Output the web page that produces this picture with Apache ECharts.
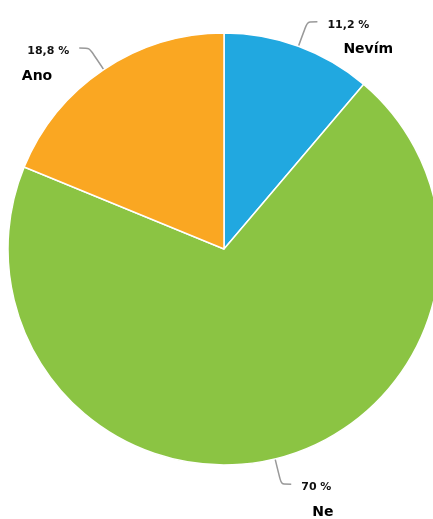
<!DOCTYPE html>
<html>
<head>
<meta charset="utf-8">
<style>
  html, body { margin: 0; padding: 0; background: #fff; }
  #chart { width: 433px; height: 519px; }
</style>
<script src="https://cdn.jsdelivr.net/npm/echarts@6/dist/echarts.min.js"></script>
</head>
<body>
<div id="chart"></div>
<script>
// Answer shares in percent, drawn clockwise from 12 o'clock
const categories = ['Nevím', 'Ne', 'Ano'];
const shares = [11.2, 70, 18.8];
const valueLabels = ['11,2 %', '70 %', '18,8 %'];
const sliceColors = ['#21a8e0', '#8bc443', '#faa722'];

// name-line indent per slice (left for right-hand labels, right for left-hand ones)
const namePadding = [[0, 0, 0, 16], [0, 0, 0, 11], [0, 17, 0, 0]];

const chart = echarts.init(document.getElementById('chart'), null, { renderer: 'canvas' });

const rich = {
  e: { height: 36, lineHeight: 36 },
  v: { fontFamily: 'DejaVu Sans', fontSize: 11, fontWeight: 'bold', color: '#111', lineHeight: 20 }
};
categories.forEach((c, i) => {
  rich['n' + i] = {
    fontFamily: 'DejaVu Sans', fontSize: 14, fontWeight: 'bold', color: '#000',
    lineHeight: 30, padding: namePadding[i]
  };
});

chart.setOption({
  animation: false,
  series: [{
    type: 'pie',
    center: [224, 249],
    radius: 216,
    startAngle: 90,
    clockwise: true,
    avoidLabelOverlap: false,
    data: categories.map((c, i) => ({
      name: c,
      value: shares[i],
      itemStyle: { color: sliceColors[i] }
    })),
    itemStyle: { borderColor: '#fff', borderWidth: 1.5 },
    label: {
      show: true,
      position: 'outside',
      distanceToLabelLine: 10,
      formatter: p => '{e|}\n{v|' + valueLabels[p.dataIndex] + '}\n{n' + p.dataIndex + '|' + p.name + '}',
      rich: rich
    },
    labelLine: {
      show: true,
      length: 26,
      length2: 10,
      smooth: 0.2,
      lineStyle: { color: '#999', width: 1.5 }
    },
    emphasis: { disabled: true }
  }]
});
</script>
</body>
</html>
